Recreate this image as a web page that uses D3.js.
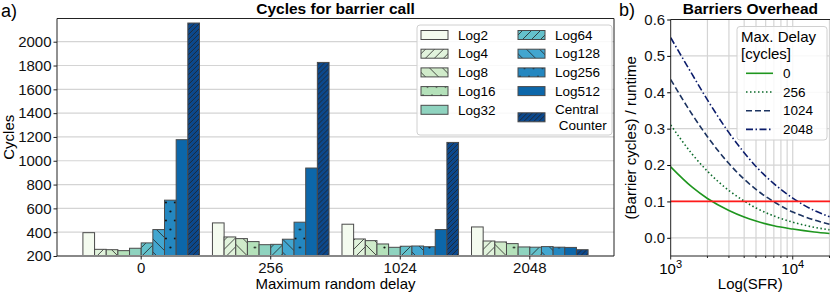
<!DOCTYPE html>
<html>
<head>
<meta charset="utf-8">
<script src="https://cdn.jsdelivr.net/npm/d3@7"></script>
<style>
  body { margin: 0; background: #fff; }
  svg { font-family: 'Liberation Sans', Arial, sans-serif; display: block; }
  .grid line { stroke: #d4d4d4; stroke-width: 1.2; }
</style>
</head>
<body>
<div id="draw-space"></div>
<script>
// panel a data
const delays = ['0', '256', '1024', '2048'];
const series = ['Log2', 'Log4', 'Log8', 'Log16', 'Log32', 'Log64', 'Log128', 'Log256', 'Log512', 'Central Counter'];
const cyclesD0    = [396, 256, 253, 245, 265, 310, 422, 669, 1177, 2157];
const cyclesD256  = [478, 360, 346, 321, 295, 298, 341, 484, 939, 1826];
const cyclesD1024 = [467, 343, 329, 301, 273, 282, 284, 278, 422, 1154];
const cyclesD2048 = [444, 326, 318, 304, 276, 274, 279, 274, 272, 253];
const yTicksA = [200, 400, 600, 800, 1000, 1200, 1400, 1600, 1800, 2000];

// panel b data
const sfr = [1000, 1500, 2000, 3000, 4000, 5000, 7000, 10000, 15000, 20000];
const ovh0    = [0.195, 0.139, 0.108, 0.075, 0.057, 0.046, 0.033, 0.024, 0.016, 0.012];
const ovh256  = [0.310, 0.230, 0.183, 0.130, 0.101, 0.082, 0.060, 0.043, 0.029, 0.022];
const ovh1024 = [0.435, 0.339, 0.278, 0.204, 0.161, 0.133, 0.099, 0.071, 0.049, 0.037];
const ovh2048 = [0.550, 0.449, 0.379, 0.289, 0.234, 0.196, 0.149, 0.109, 0.075, 0.058];
const delayLabels = ['0', '256', '1024', '2048'];
const yTicksB = [0, 0.1, 0.2, 0.3, 0.4, 0.5, 0.6];
const threshold = 0.1;

const colors = ['#f4fbef', '#e1f3dc', '#d0ebca', '#b4e1ba', '#8fd3bf', '#64c1cb', '#42a6d0', '#2487c0', '#0c67aa', '#0c488c'];
const hatches = [null, 'fwd', 'back', 'dots', null, 'fwd', 'back', 'dots', null, 'dense'];

const svg = d3.select('#draw-space').append('svg')
              .attr('width', 830)
              .attr('height', 294);

const defs = svg.append('defs');

// hatch patterns, one per series
series.forEach((s, i) => {
  const p = defs.append('pattern')
                .attr('id', 'pat' + i)
                .attr('patternUnits', 'userSpaceOnUse');
  const h = hatches[i];
  let w = 10, ht = 10;
  if (h === 'fwd') { w = 9; ht = 9; }
  if (h === 'back') { w = 13; ht = 13; }
  if (h === 'dense') { w = 5; ht = 5; }
  if (h === 'dots') { w = 9; ht = 18; }
  p.attr('width', w).attr('height', ht);
  p.append('rect').attr('width', w).attr('height', ht).attr('fill', colors[i]);
  if (h === 'fwd' || h === 'dense') {
    p.append('path')
     .attr('d', `M0,${ht} L${w},0 M${-w},${ht} L0,0 M${w},${ht} L${2 * w},0`)
     .attr('stroke', '#222').attr('stroke-width', 0.8);
  } else if (h === 'back') {
    p.append('path')
     .attr('d', `M0,0 L${w},${ht} M${-w},0 L0,${ht} M${w},0 L${2 * w},${ht}`)
     .attr('stroke', '#222').attr('stroke-width', 0.8);
  } else if (h === 'dots') {
    p.append('circle').attr('cx', 2).attr('cy', 4.5).attr('r', 1.1).attr('fill', '#111');
    p.append('circle').attr('cx', 6.5).attr('cy', 13.5).attr('r', 1.1).attr('fill', '#111');
  }
});

const fillOf = i => hatches[i] ? `url(#pat${i})` : colors[i];

// ---------------- panel a ----------------
const A = { left: 57, right: 614, top: 18.5, bottom: 256 };
const groups = delays.map((d, gi) => ({
  delay: d,
  values: [cyclesD0, cyclesD256, cyclesD1024, cyclesD2048][gi]
}));

const xA = d3.scaleBand()
             .domain(delays)
             .range([A.left, A.right])
             .paddingInner(0.1)
             .paddingOuter(0.2);

const xInner = d3.scaleBand()
                 .domain(d3.range(series.length))
                 .range([0, xA.bandwidth()]);

const yA = d3.scaleLinear()
             .domain([200, 2195])
             .range([A.bottom, A.top]);

svg.append('g')
   .attr('class', 'grid')
   .selectAll('line')
   .data(yTicksA.slice(1))
   .enter()
   .append('line')
     .attr('x1', A.left)
     .attr('x2', A.right)
     .attr('y1', d => yA(d))
     .attr('y2', d => yA(d));

const groupSel = svg.selectAll('.bar-group')
                    .data(groups)
                    .enter()
                    .append('g')
                    .attr('class', 'bar-group')
                    .attr('transform', d => `translate(${xA(d.delay)},0)`);

groupSel.selectAll('rect')
        .data(d => d.values)
        .enter()
        .append('rect')
          .attr('x', (d, i) => xInner(i))
          .attr('y', d => yA(d))
          .attr('width', xInner.bandwidth())
          .attr('height', d => yA(200) - yA(d))
          .attr('fill', (d, i) => fillOf(i))
          .attr('stroke', '#4a4a4a')
          .attr('stroke-width', 1);

// frame
svg.append('line')
   .attr('x1', A.left).attr('x2', A.right)
   .attr('y1', A.bottom).attr('y2', A.bottom)
   .attr('stroke', '#888').attr('stroke-width', 2);
svg.append('path')
   .attr('d', `M${A.left},${A.bottom} V${A.top} H${A.right} V${A.bottom}`)
   .attr('fill', 'none')
   .attr('stroke', '#222')
   .attr('stroke-width', 1);

const axA = svg.append('g')
               .attr('transform', `translate(${A.left},0)`)
               .call(d3.axisLeft(yA).tickValues(yTicksA).tickFormat(d3.format('d')).tickSize(3.5).tickPadding(2));
const axAx = svg.append('g')
                .attr('transform', `translate(0,${A.bottom})`)
                .call(d3.axisBottom(xA).tickSize(3.5).tickPadding(3));
[axA, axAx].forEach(ax => {
  ax.select('.domain').remove();
  ax.selectAll('text').attr('font-size', 15).attr('fill', '#111').style('font-family', 'Liberation Sans, Arial, sans-serif');
  ax.selectAll('line').attr('stroke', '#222');
});

svg.append('text')
   .attr('x', (A.left + A.right) / 2)
   .attr('y', 14)
   .attr('text-anchor', 'middle')
   .attr('font-weight', 'bold')
   .attr('font-size', 15.5)
   .text('Cycles for barrier call');

svg.append('text')
   .attr('transform', `translate(14,${(A.top + A.bottom) / 2}) rotate(-90)`)
   .attr('text-anchor', 'middle')
   .attr('font-size', 15)
   .text('Cycles');

svg.append('text')
   .attr('x', (A.left + A.right) / 2)
   .attr('y', 289)
   .attr('text-anchor', 'middle')
   .attr('font-size', 15)
   .text('Maximum random delay');

svg.append('text')
   .attr('x', 1)
   .attr('y', 17)
   .attr('font-size', 18)
   .text('a)');

// legend a
const legA = svg.append('g');
legA.append('rect')
    .attr('x', 417).attr('y', 25)
    .attr('width', 195).attr('height', 110)
    .attr('rx', 3)
    .attr('fill', 'rgba(255,255,255,0.85)')
    .attr('stroke', '#d0d0d0');

const legItems = legA.selectAll('.legend-item')
                     .data(series)
                     .enter()
                     .append('g')
                     .attr('class', 'legend-item')
                     .attr('transform', (d, i) => {
                       const col = i < 5 ? 0 : 1;
                       const row = i % 5;
                       const extra = i === 9 ? 7.5 : 0;
                       return `translate(${421 + col * 97},${35 + row * 18.7 + extra})`;
                     });

legItems.append('rect')
        .attr('x', 0).attr('y', -4.5)
        .attr('width', 27).attr('height', 9)
        .attr('fill', (d, i) => fillOf(i))
        .attr('stroke', '#4a4a4a');

legItems.append('text')
        .attr('x', 37)
        .attr('y', 4.7)
        .attr('font-size', 13.5)
        .each(function(d) {
          const t = d3.select(this);
          if (d === 'Central Counter') {
            t.append('tspan').attr('x', 37).attr('dy', -8.5).text('Central');
            t.append('tspan').attr('x', 37).attr('dy', 16.5).text('\u00a0Counter');
          } else {
            t.text(d);
          }
        });

// ---------------- panel b ----------------
const B = { left: 670.7, right: 830, top: 19.5, bottom: 256 };

const xB = d3.scaleLog()
             .domain([1000, 20200])
             .range([B.left, B.right]);

const yB = d3.scaleLinear()
             .domain([-0.05, 0.6])
             .range([B.bottom, B.top]);

const minorX = [2000, 3000, 4000, 5000, 6000, 7000, 8000, 9000, 10000, 20000];

const gridB = svg.append('g').attr('class', 'grid');
gridB.selectAll('.gx')
     .data(minorX)
     .enter()
     .append('line')
       .attr('x1', d => xB(d)).attr('x2', d => xB(d))
       .attr('y1', B.top).attr('y2', B.bottom);
gridB.selectAll('.gy')
     .data(yTicksB)
     .enter()
     .append('line')
       .attr('x1', B.left).attr('x2', B.right)
       .attr('y1', d => yB(d)).attr('y2', d => yB(d));

const lineSeries = [
  { label: delayLabels[0], values: ovh0,    color: '#1f961f', dash: null,          width: 1.6 },
  { label: delayLabels[1], values: ovh256,  color: '#0b6a2a', dash: '1.5,2.5',     width: 1.6 },
  { label: delayLabels[2], values: ovh1024, color: '#1d3461', dash: '6,3',         width: 1.6 },
  { label: delayLabels[3], values: ovh2048, color: '#0b1c6b', dash: '7,2.5,1.5,2.5', width: 1.6 }
];

const lineGen = d3.line()
                  .x((d, i) => xB(sfr[i]))
                  .y(d => yB(d))
                  .curve(d3.curveMonotoneX);

svg.append('clipPath').attr('id', 'clipB')
   .append('rect')
   .attr('x', B.left).attr('y', B.top)
   .attr('width', B.right - B.left).attr('height', B.bottom - B.top);

const plotB = svg.append('g').attr('clip-path', 'url(#clipB)');

plotB.selectAll('.curve')
     .data(lineSeries)
     .enter()
     .append('path')
       .attr('class', 'curve')
       .attr('d', d => lineGen(d.values))
       .attr('fill', 'none')
       .attr('stroke', d => d.color)
       .attr('stroke-width', d => d.width)
       .attr('stroke-dasharray', d => d.dash);

plotB.append('line')
     .attr('x1', B.left).attr('x2', B.right)
     .attr('y1', yB(threshold)).attr('y2', yB(threshold))
     .attr('stroke', '#ff1a1a')
     .attr('stroke-width', 1.6);

svg.append('path')
   .attr('d', `M${B.right},${B.top} H${B.left} V${B.bottom} H${B.right}`)
   .attr('fill', 'none')
   .attr('stroke', '#222')
   .attr('stroke-width', 1);

const axB = svg.append('g')
               .attr('transform', `translate(${B.left},0)`)
               .call(d3.axisLeft(yB).tickValues(yTicksB).tickFormat(d3.format('.1f')).tickSize(3.5).tickPadding(2));
axB.select('.domain').remove();
axB.selectAll('text').attr('font-size', 15).attr('fill', '#111').style('font-family', 'Liberation Sans, Arial, sans-serif');

const axBx = svg.append('g')
                .attr('transform', `translate(0,${B.bottom})`);
axBx.selectAll('.major')
    .data([1000, 10000])
    .enter()
    .append('line')
      .attr('x1', d => xB(d)).attr('x2', d => xB(d))
      .attr('y1', 0).attr('y2', 3.5)
      .attr('stroke', '#222');
axBx.selectAll('.minor')
    .data(minorX.filter(d => d !== 10000))
    .enter()
    .append('line')
      .attr('x1', d => xB(d)).attr('x2', d => xB(d))
      .attr('y1', 0).attr('y2', 2)
      .attr('stroke', '#222');
const majorLab = axBx.selectAll('.lab')
                     .data([3, 4])
                     .enter()
                     .append('text')
                     .attr('x', d => xB(Math.pow(10, d)))
                     .attr('y', 18)
                     .attr('text-anchor', 'middle')
                     .attr('font-size', 15);
majorLab.append('tspan').text('10');
majorLab.append('tspan').attr('dy', -6).attr('font-size', 11).text(d => d);

svg.append('text')
   .attr('x', (B.left + 830) / 2)
   .attr('y', 289)
   .attr('text-anchor', 'middle')
   .attr('font-size', 15)
   .text('Log(SFR)');

svg.append('text')
   .attr('transform', `translate(636,${(B.top + B.bottom) / 2}) rotate(-90)`)
   .attr('text-anchor', 'middle')
   .attr('font-size', 15)
   .text('(Barrier cycles) / runtime');

svg.append('text')
   .attr('x', (B.left + 830) / 2 + 0)
   .attr('y', 14)
   .attr('text-anchor', 'middle')
   .attr('font-weight', 'bold')
   .attr('font-size', 15.5)
   .text('Barriers Overhead');

svg.append('text')
   .attr('x', 619)
   .attr('y', 16)
   .attr('font-size', 18)
   .text('b)');

// legend b
const legB = svg.append('g');
legB.append('rect')
    .attr('x', 737).attr('y', 26.5)
    .attr('width', 90).attr('height', 113.5)
    .attr('rx', 3)
    .attr('fill', 'rgba(255,255,255,0.85)')
    .attr('stroke', '#d0d0d0');
legB.append('text')
    .attr('x', 741).attr('y', 42)
    .attr('font-size', 15)
    .text('Max. Delay');
legB.append('text')
    .attr('x', 741).attr('y', 59)
    .attr('font-size', 15)
    .text('[cycles]');

const legBItems = legB.selectAll('.legb-item')
                      .data(lineSeries)
                      .enter()
                      .append('g')
                      .attr('transform', (d, i) => `translate(746,${73.3 + i * 18.7})`);
legBItems.append('line')
         .attr('x1', 0).attr('x2', 27)
         .attr('stroke', d => d.color)
         .attr('stroke-width', d => d.width)
         .attr('stroke-dasharray', d => d.dash);
legBItems.append('text')
         .attr('x', 37).attr('y', 4.7)
         .attr('font-size', 13.5)
         .text(d => d.label);
</script>
</body>
</html>
